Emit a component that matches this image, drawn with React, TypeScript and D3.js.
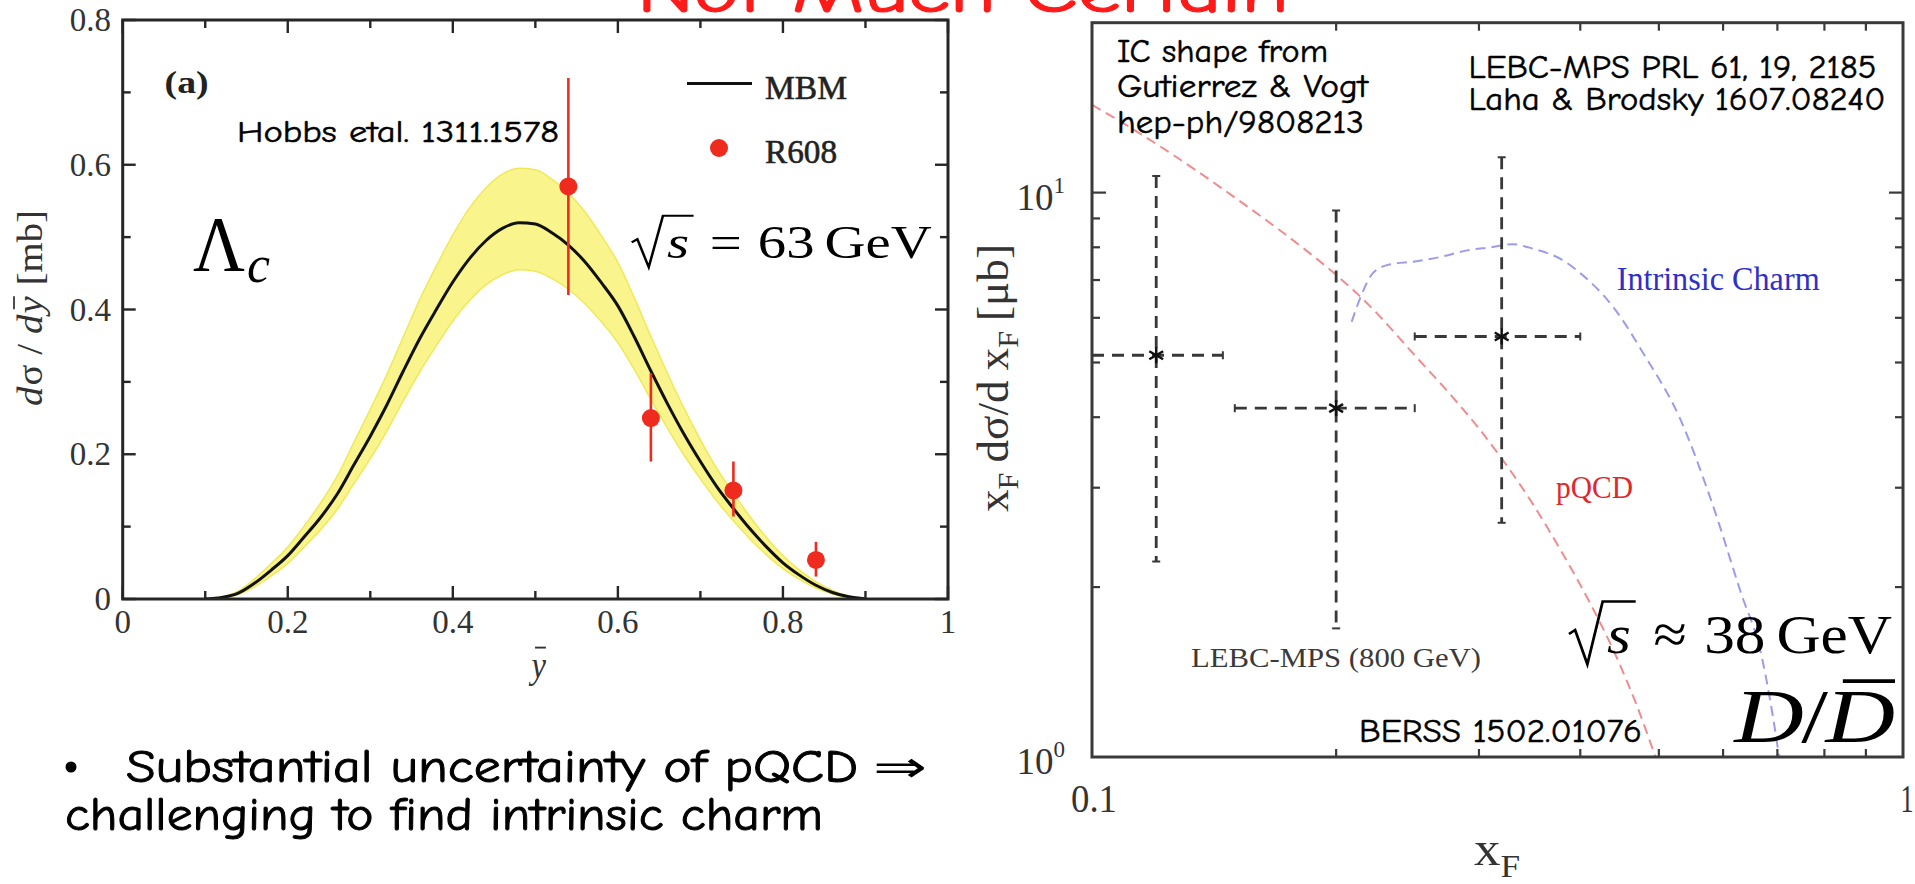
import React, { useEffect, useRef } from "react";
import * as d3 from "d3";

const W = 1915;
const H = 884;

const SERIF = "'Liberation Serif', 'Times New Roman', serif";
const HAND = "'Comic Sans MS', 'Comic Neue', 'Open Sans', sans-serif";
const SYMBOL = "'DejaVu Sans', sans-serif";

// ---------- Λc panel: MBM prediction (central + band) vs R608 ----------
const mbmYbar = [0.10, 0.12, 0.14, 0.16, 0.18, 0.20, 0.22, 0.24, 0.26, 0.28, 0.30, 0.32, 0.34, 0.36, 0.38, 0.40, 0.42, 0.44, 0.46, 0.48, 0.50, 0.52, 0.54, 0.56, 0.58, 0.60, 0.62, 0.64, 0.66, 0.68, 0.70, 0.72, 0.74, 0.76, 0.78, 0.80, 0.82, 0.84, 0.86, 0.88, 0.90];
const mbmCentral = [0, 0.002, 0.008, 0.022, 0.04, 0.06, 0.086, 0.113, 0.145, 0.185, 0.225, 0.268, 0.315, 0.36, 0.40, 0.438, 0.47, 0.495, 0.512, 0.52, 0.518, 0.506, 0.489, 0.466, 0.437, 0.405, 0.362, 0.315, 0.27, 0.228, 0.19, 0.155, 0.125, 0.097, 0.072, 0.05, 0.033, 0.019, 0.009, 0.003, 0];
const mbmUpper = [0, 0.003, 0.011, 0.028, 0.049, 0.072, 0.101, 0.133, 0.17, 0.216, 0.262, 0.31, 0.362, 0.414, 0.46, 0.503, 0.54, 0.568, 0.587, 0.595, 0.593, 0.58, 0.561, 0.535, 0.502, 0.465, 0.416, 0.363, 0.312, 0.264, 0.22, 0.18, 0.146, 0.114, 0.085, 0.06, 0.04, 0.024, 0.012, 0.004, 0];
const mbmLower = [0, 0.001, 0.006, 0.017, 0.032, 0.049, 0.072, 0.096, 0.124, 0.159, 0.194, 0.232, 0.274, 0.314, 0.35, 0.384, 0.412, 0.434, 0.448, 0.455, 0.453, 0.443, 0.428, 0.408, 0.383, 0.354, 0.317, 0.276, 0.236, 0.199, 0.166, 0.135, 0.108, 0.083, 0.061, 0.042, 0.027, 0.015, 0.007, 0.002, 0];

const r608Ybar = [0.54, 0.64, 0.74, 0.84];
const r608Sigma = [0.57, 0.25, 0.15, 0.054];
const r608Low = [0.42, 0.19, 0.114, 0.031];
const r608High = [0.72, 0.312, 0.19, 0.079];

const leftXTicks = [0, 0.2, 0.4, 0.6, 0.8, 1];
const leftXMinor = [0.1, 0.3, 0.5, 0.7, 0.9];
const leftYTicks = [0, 0.2, 0.4, 0.6, 0.8];
const leftYMinor = [0.1, 0.3, 0.5, 0.7];
const leftXLabels = ["0", "0.2", "0.4", "0.6", "0.8", "1"];
const leftYLabels = ["0", "0.2", "0.4", "0.6", "0.8"];

// ---------- D/Dbar panel: pQCD, intrinsic charm, LEBC-MPS ----------
const pqcdX = [0.1, 0.11, 0.12, 0.135, 0.15, 0.17, 0.19, 0.2, 0.22, 0.25, 0.28, 0.3, 0.32, 0.35, 0.38, 0.41, 0.44, 0.47, 0.5];
const pqcdY = [14.3, 13.2, 12.2, 10.9, 9.8, 8.6, 7.6, 7.15, 6.3, 5.15, 4.3, 3.82, 3.38, 2.8, 2.3, 1.89, 1.54, 1.23, 0.96];

const icX = [0.209, 0.215, 0.222, 0.232, 0.25, 0.27, 0.29, 0.31, 0.33, 0.35, 0.38, 0.4, 0.44, 0.48, 0.53, 0.58, 0.63, 0.67, 0.7, 0.705];
const icY = [5.9, 6.6, 7.2, 7.45, 7.55, 7.7, 7.9, 8.0, 8.1, 7.95, 7.6, 7.2, 6.25, 5.15, 4.0, 2.85, 1.97, 1.5, 1.05, 0.98];

const lebcX = [0.12, 0.2, 0.32];
const lebcY = [5.15, 4.15, 5.56];
const lebcXLow = [0.1, 0.15, 0.25];
const lebcXHigh = [0.145, 0.25, 0.4];
const lebcYLow = [2.22, 1.69, 2.6];
const lebcYHigh = [10.7, 9.3, 11.55];

const rightXMinor = [0.2, 0.3, 0.4, 0.5, 0.6, 0.7, 0.8, 0.9];
const rightYMinor = [2, 3, 4, 5, 6, 7, 8, 9];
const rightYMajor = [10];

type Sel = d3.Selection<any, any, any, any>;

type Piece = {
  t: string;
  size: number;
  italic?: boolean;
  fam?: string;
  dy?: number;
  gap?: number;
  bar?: boolean;
  sqrt?: boolean;
};

// lays pieces out left to right from the origin, baseline at y = 0
function row(parent: Sel, pieces: Piece[], fill: string, weight = 0): Sel {
  const g = parent.append("g");
  let cx = 0;
  for (const p of pieces) {
    const f = p.size;
    const fam = p.fam ?? SERIF;
    if (p.sqrt) {
      const x0 = cx;
      const top = -0.92 * f;
      const t = g
        .append("text")
        .attr("x", x0 + 0.62 * f)
        .attr("y", 0)
        .attr("font-family", fam)
        .attr("font-size", f)
        .attr("font-style", "italic")
        .attr("fill", fill)
        .attr("stroke", fill)
        .attr("stroke-width", weight)
        .text(p.t);
      const w = (t.node() as SVGTextElement).getComputedTextLength();
      const end = x0 + 0.62 * f + w + 0.08 * f;
      g.append("path")
        .attr(
          "d",
          `M${x0},${-0.34 * f} L${x0 + 0.1 * f},${-0.41 * f} L${x0 + 0.3 * f},${0.2 * f} L${x0 + 0.55 * f},${top} L${end},${top}`
        )
        .attr("fill", "none")
        .attr("stroke", fill)
        .attr("stroke-width", 0.045 * f)
        .attr("stroke-linejoin", "miter");
      cx = end + (p.gap ?? 0);
      continue;
    }
    const y = p.dy ?? 0;
    const t = g
      .append("text")
      .attr("x", cx)
      .attr("y", y)
      .attr("font-family", fam)
      .attr("font-size", f)
      .attr("font-style", p.italic ? "italic" : "normal")
      .attr("fill", fill)
      .attr("stroke", fill)
      .attr("stroke-width", weight)
      .text(p.t);
    const w = (t.node() as SVGTextElement).getComputedTextLength();
    if (p.bar) {
      g.append("line")
        .attr("x1", cx + w * 0.25)
        .attr("x2", cx + w * 1.0)
        .attr("y1", y - f * 0.8)
        .attr("y2", y - f * 0.8)
        .attr("stroke", fill)
        .attr("stroke-width", f * 0.05);
    }
    cx += w + (p.gap ?? 0);
  }
  return g;
}

function place(g: Sel, x: number, y: number, width: number, anchor: "start" | "middle" = "start", rot = 0) {
  const bb = (g.node() as SVGGElement).getBBox();
  const sx = width / bb.width;
  const shift = anchor === "middle" ? -(bb.x + bb.width / 2) : -bb.x;
  g.attr("transform", `translate(${x},${y}) rotate(${rot}) scale(${sx},1) translate(${shift},0)`);
}

function label(
  parent: Sel,
  x: number,
  y: number,
  str: string,
  size: number,
  fam: string,
  fill: string,
  width?: number,
  extra: Record<string, string | number> = {}
) {
  const t = parent
    .append("text")
    .attr("x", x)
    .attr("y", y)
    .attr("font-family", fam)
    .attr("font-size", size)
    .attr("fill", fill)
    .text(str);
  if (width) t.attr("textLength", width).attr("lengthAdjust", "spacingAndGlyphs");
  Object.entries(extra).forEach(([k, v]) => t.attr(k, v));
  return t;
}

const handInk = (w: number) => ({ stroke: "#000", "stroke-width": w, "stroke-linejoin": "round" });

function drawLeft(svg: Sel) {
  const x = d3.scaleLinear().domain([0, 1]).range([122.7, 948]);
  const y = d3.scaleLinear().domain([0, 0.8]).range([599, 20]);
  const g = svg.append("g");

  g.append("clipPath")
    .attr("id", "clip-left")
    .append("rect")
    .attr("x", x(0))
    .attr("y", y(0.8))
    .attr("width", x(1) - x(0))
    .attr("height", y(0) - y(0.8));

  const plot = g.append("g").attr("clip-path", "url(#clip-left)");
  const idx = mbmYbar.map((_, i) => i);

  const band = d3
    .area<number>()
    .x((i) => x(mbmYbar[i]))
    .y0((i) => y(mbmLower[i]))
    .y1((i) => y(mbmUpper[i]))
    .curve(d3.curveMonotoneX);
  plot.append("path").attr("d", band(idx)!).attr("fill", "#f9f48c").attr("stroke", "#efe95a").attr("stroke-width", 1.5);

  const line = d3
    .line<number>()
    .x((i) => x(mbmYbar[i]))
    .y((i) => y(mbmCentral[i]))
    .curve(d3.curveMonotoneX);
  plot.append("path").attr("d", line(idx)!).attr("fill", "none").attr("stroke", "#111").attr("stroke-width", 3);

  const red = "#ee2b1e";
  plot
    .selectAll("line.err")
    .data(r608Ybar)
    .join("line")
    .attr("x1", (d) => x(d))
    .attr("x2", (d) => x(d))
    .attr("y1", (_, i) => y(r608Low[i]))
    .attr("y2", (_, i) => y(r608High[i]))
    .attr("stroke", red)
    .attr("stroke-width", 2.6);
  plot
    .selectAll("circle.pt")
    .data(r608Ybar)
    .join("circle")
    .attr("cx", (d) => x(d))
    .attr("cy", (_, i) => y(r608Sigma[i]))
    .attr("r", 9)
    .attr("fill", red);

  // frame and ticks
  const ink = "#262626";
  g.append("rect")
    .attr("x", x(0))
    .attr("y", y(0.8))
    .attr("width", x(1) - x(0))
    .attr("height", y(0) - y(0.8))
    .attr("fill", "none")
    .attr("stroke", ink)
    .attr("stroke-width", 3);

  const tickX = (vals: number[], len: number) => {
    [y(0), y(0.8)].forEach((yy, k) => {
      g.append("g")
        .selectAll("line")
        .data(vals)
        .join("line")
        .attr("x1", (d) => x(d))
        .attr("x2", (d) => x(d))
        .attr("y1", yy)
        .attr("y2", yy + (k === 0 ? -len : len))
        .attr("stroke", ink)
        .attr("stroke-width", 2.4);
    });
  };
  const tickY = (vals: number[], len: number) => {
    [x(0), x(1)].forEach((xx, k) => {
      g.append("g")
        .selectAll("line")
        .data(vals)
        .join("line")
        .attr("y1", (d) => y(d))
        .attr("y2", (d) => y(d))
        .attr("x1", xx)
        .attr("x2", xx + (k === 0 ? len : -len))
        .attr("stroke", ink)
        .attr("stroke-width", 2.4);
    });
  };
  tickX(leftXTicks, 13);
  tickX(leftXMinor, 8);
  tickY(leftYTicks, 13);
  tickY(leftYMinor, 8);

  g.append("g")
    .selectAll("text")
    .data(leftXTicks)
    .join("text")
    .attr("x", (d) => x(d))
    .attr("y", 633)
    .attr("text-anchor", "middle")
    .attr("font-family", SERIF)
    .attr("font-size", 33)
    .attr("fill", "#333")
    .text((_, i) => leftXLabels[i]);
  g.append("g")
    .selectAll("text")
    .data(leftYTicks)
    .join("text")
    .attr("x", 111)
    .attr("y", (d) => y(d) + 11)
    .attr("text-anchor", "end")
    .attr("font-family", SERIF)
    .attr("font-size", 33)
    .attr("fill", "#333")
    .text((_, i) => leftYLabels[i]);

  // x-axis title: y with a bar
  const xt = row(g, [{ t: "y", size: 38, italic: true, bar: true }], "#333");
  place(xt, 537, 678, 18, "middle");

  // y-axis title
  const yt = row(
    g,
    [
      { t: "d", size: 35, italic: true, gap: 1 },
      { t: "σ", size: 35, gap: 9 },
      { t: "/", size: 35, gap: 9 },
      { t: "d", size: 35, italic: true, gap: 1 },
      { t: "y", size: 35, italic: true, bar: true, gap: 10 },
      { t: "[mb]", size: 35 },
    ],
    "#333"
  );
  place(yt, 42, 308, 196, "middle", -90);

  // panel tag and legend
  label(g, 164.6, 93, "(a)", 32, SERIF, "#222", 44, { "font-weight": "bold" });
  g.append("line").attr("x1", 687).attr("x2", 752).attr("y1", 83.5).attr("y2", 83.5).attr("stroke", "#111").attr("stroke-width", 3);
  label(g, 765, 99, "MBM", 34, SERIF, "#222", 82, { stroke: "#222", "stroke-width": 0.6 });
  g.append("circle").attr("cx", 719).attr("cy", 148).attr("r", 9).attr("fill", red);
  label(g, 765, 163, "R608", 34, SERIF, "#222", 72, { stroke: "#222", "stroke-width": 0.6 });

  label(g, 237, 142, "Hobbs etal. 1311.1578", 30, HAND, "#000", 322, handInk(0.5));

  // Λc
  label(g, 193, 270, "Λ", 78, SERIF, "#000", 52);
  label(g, 247, 282, "c", 52, SERIF, "#000", 23, { "font-style": "italic" });

  const eq = row(
    g,
    [
      { t: "s", size: 46, sqrt: true, gap: 13 },
      { t: "=", size: 46, gap: 13 },
      { t: "63", size: 46, gap: 8 },
      { t: "GeV", size: 46 },
    ],
    "#000"
  );
  place(eq, 631.7, 258, 300);
}

function drawRight(svg: Sel) {
  const x = d3.scaleLog().domain([0.1, 1]).range([1092, 1903]);
  const y = d3.scaleLog().domain([1, 20]).range([757, 22.7]);
  const g = svg.append("g");

  g.append("clipPath")
    .attr("id", "clip-right")
    .append("rect")
    .attr("x", x(0.1))
    .attr("y", y(20))
    .attr("width", x(1) - x(0.1))
    .attr("height", y(1) - y(20));
  const plot = g.append("g").attr("clip-path", "url(#clip-right)");

  const curve = (xs: number[], ys: number[]) =>
    d3
      .line<number>()
      .x((i) => x(xs[i]))
      .y((i) => y(ys[i]))
      .curve(d3.curveMonotoneX)(xs.map((_, i) => i))!;

  plot.append("path").attr("d", curve(pqcdX, pqcdY)).attr("fill", "none").attr("stroke", "#f08c8f").attr("stroke-width", 2).attr("stroke-dasharray", "10,6");
  plot.append("path").attr("d", curve(icX, icY)).attr("fill", "none").attr("stroke", "#9c9ceb").attr("stroke-width", 2).attr("stroke-dasharray", "10,6");

  // LEBC-MPS points with dashed error bars
  const eb = "#383838";
  const pts = plot.append("g");
  lebcX.forEach((xv, i) => {
    const cx = x(xv);
    const cy = y(lebcY[i]);
    const yTop = y(lebcYHigh[i]);
    const yBot = y(lebcYLow[i]);
    const xL = x(lebcXLow[i]);
    const xR = x(lebcXHigh[i]);
    const dash = "12,8";
    pts.append("line").attr("x1", cx).attr("x2", cx).attr("y1", yTop).attr("y2", yBot).attr("stroke", eb).attr("stroke-width", 2.8).attr("stroke-dasharray", dash);
    pts.append("line").attr("x1", xL).attr("x2", xR).attr("y1", cy).attr("y2", cy).attr("stroke", eb).attr("stroke-width", 2.8).attr("stroke-dasharray", dash);
    // caps
    pts.append("line").attr("x1", cx - 4).attr("x2", cx + 4).attr("y1", yTop).attr("y2", yTop).attr("stroke", eb).attr("stroke-width", 2);
    pts.append("line").attr("x1", cx - 4).attr("x2", cx + 4).attr("y1", yBot).attr("y2", yBot).attr("stroke", eb).attr("stroke-width", 2);
    pts.append("line").attr("x1", xL).attr("x2", xL).attr("y1", cy - 4).attr("y2", cy + 4).attr("stroke", eb).attr("stroke-width", 2);
    pts.append("line").attr("x1", xR).attr("x2", xR).attr("y1", cy - 4).attr("y2", cy + 4).attr("stroke", eb).attr("stroke-width", 2);
    // asterisk marker
    [90, 30, 150].forEach((a) => {
      const r = (a * Math.PI) / 180;
      pts.append("line")
        .attr("x1", cx - 8 * Math.cos(r))
        .attr("x2", cx + 8 * Math.cos(r))
        .attr("y1", cy - 8 * Math.sin(r))
        .attr("y2", cy + 8 * Math.sin(r))
        .attr("stroke", "#111")
        .attr("stroke-width", 2.5);
    });
  });

  const ink = "#3a3a3a";
  g.append("rect")
    .attr("x", x(0.1))
    .attr("y", y(20))
    .attr("width", x(1) - x(0.1))
    .attr("height", y(1) - y(20))
    .attr("fill", "none")
    .attr("stroke", ink)
    .attr("stroke-width", 3);

  const tx = (vals: number[], len: number) => {
    [y(1), y(20)].forEach((yy, k) => {
      g.append("g")
        .selectAll("line")
        .data(vals)
        .join("line")
        .attr("x1", (d) => x(d))
        .attr("x2", (d) => x(d))
        .attr("y1", yy)
        .attr("y2", yy + (k === 0 ? -len : len))
        .attr("stroke", ink)
        .attr("stroke-width", 2.2);
    });
  };
  const ty = (vals: number[], len: number) => {
    [x(0.1), x(1)].forEach((xx, k) => {
      g.append("g")
        .selectAll("line")
        .data(vals)
        .join("line")
        .attr("y1", (d) => y(d))
        .attr("y2", (d) => y(d))
        .attr("x1", xx)
        .attr("x2", xx + (k === 0 ? len : -len))
        .attr("stroke", ink)
        .attr("stroke-width", 2.2);
    });
  };
  tx(rightXMinor, 8);
  ty(rightYMinor, 8);
  ty(rightYMajor, 14);

  // tick labels
  label(g, x(0.1) + 2, 812, "0.1", 40, SERIF, "#333", 46, { "text-anchor": "middle" });
  label(g, x(1) + 4, 812, "1", 40, SERIF, "#333", 13, { "text-anchor": "middle" });
  const pow = (val: number, exp: string, base: number) => {
    const t = g
      .append("text")
      .attr("x", 1065)
      .attr("y", base)
      .attr("text-anchor", "end")
      .attr("font-family", SERIF)
      .attr("font-size", 37)
      .attr("fill", "#333");
    t.append("tspan").text(String(val));
    t.append("tspan").attr("dy", -17).attr("font-size", 23).text(exp);
  };
  pow(10, "1", y(10) + 17);
  pow(10, "0", y(1) + 17);

  // axis titles
  const xt = row(
    g,
    [
      { t: "x", size: 48 },
      { t: "F", size: 32, dy: 12 },
    ],
    "#333"
  );
  place(xt, 1497, 865, 46, "middle");

  const yt = row(
    g,
    [
      { t: "x", size: 45 },
      { t: "F", size: 30, dy: 10, gap: 10 },
      { t: "dσ/d", size: 45, gap: 10 },
      { t: "x", size: 45 },
      { t: "F", size: 30, dy: 10, gap: 10 },
      { t: "[μb]", size: 45 },
    ],
    "#333"
  );
  place(yt, 1008, 378, 268, "middle", -90);

  // curve and data labels
  label(g, 1616.7, 290, "Intrinsic Charm", 33, SERIF, "#2f2fc9", 203);
  label(g, 1556, 498, "pQCD", 31, SERIF, "#e2262c", 77);
  label(g, 1191, 667, "LEBC-MPS (800 GeV)", 28, SERIF, "#3a3a3a", 290);

  // references
  label(g, 1117, 62, "IC shape from", 32, HAND, "#000", 211, handInk(0.5));
  label(g, 1117, 97, "Gutierrez & Vogt", 32, HAND, "#000", 251, handInk(0.5));
  label(g, 1117, 133, "hep-ph/9808213", 32, HAND, "#000", 247, handInk(0.5));
  label(g, 1468.5, 78, "LEBC-MPS PRL 61, 19, 2185", 33, HAND, "#000", 408, handInk(0.5));
  label(g, 1468.5, 110, "Laha & Brodsky 1607.08240", 33, HAND, "#000", 417, handInk(0.5));
  label(g, 1359, 742, "BERSS 1502.01076", 32, HAND, "#000", 283, handInk(0.5));

  const eq = row(
    g,
    [
      { t: "s", size: 56, sqrt: true, gap: 16 },
      { t: "≈", size: 56, gap: 16 },
      { t: "38", size: 56, gap: 10 },
      { t: "GeV", size: 56 },
    ],
    "#000"
  );
  place(eq, 1569, 653, 323);

  const dd = row(
    g,
    [
      { t: "D", size: 76, italic: true, gap: -2 },
      { t: "/", size: 76, gap: -2 },
      { t: "D", size: 76, italic: true, bar: true },
    ],
    "#000"
  );
  place(dd, 1733, 742, 162);
}

function drawSlideText(svg: Sel) {
  // slide heading, mostly above the visible area
  label(svg, 637, 12, "Not Much Certain", 64, HAND, "#ff1a1a", 652, { stroke: "#ff1a1a", "stroke-width": 1.2 });

  svg.append("circle").attr("cx", 71).attr("cy", 767).attr("r", 5.5).attr("fill", "#000");
  label(svg, 126, 782, "Substantial uncertainty of pQCD", 46, HAND, "#000", 732, handInk(0.9));
  label(svg, 873, 782, "⇒", 44, SYMBOL, "#000", 54);
  label(svg, 65, 830, "challenging to find intrinsic charm", 46, HAND, "#000", 758, handInk(0.9));
}

export default function App() {
  const ref = useRef<SVGSVGElement>(null);
  useEffect(() => {
    if (!ref.current) return;
    const svg = d3.select(ref.current);
    svg.selectAll("*").remove();
    svg.append("rect").attr("width", W).attr("height", H).attr("fill", "#fff");
    drawLeft(svg);
    drawRight(svg);
    drawSlideText(svg);
  }, []);
  return (
    <svg
      ref={ref}
      width={W}
      height={H}
      viewBox={`0 0 ${W} ${H}`}
      style={{ position: "absolute", left: 0, top: 0, display: "block" }}
    />
  );
}
